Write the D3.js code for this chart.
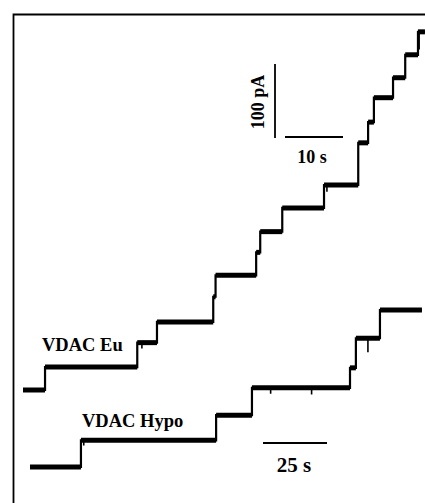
<!DOCTYPE html>
<html>
<head>
  <title>VDAC channel insertion</title>
  <meta charset="UTF-8">
  <style>
    body {
        margin: 0;
        background-color: #fff;
    }
    svg {
        display: block;
    }
    .lbl {
        font-family: "Liberation Serif", "Times New Roman", serif;
        font-weight: bold;
        fill: #000;
    }
  </style>
</head>
<body>
<svg></svg>
<script src="https://d3js.org/d3.v7.min.js"></script>
<script>

// dimensions
let width = 425, height = 503;

let svg = d3.select("svg")
    .attr("width", width)
    .attr("height", height);

// ---- data ----
// VDAC Eu: step times (s) and current level (pA) held from that time on
let euTimes   = [0, 3.8, 19.7, 23.1, 32.8, 33.2, 40.2, 40.9, 44.7, 51.9, 57.8, 59.5, 60.5, 63.8, 65.9, 68.1];
let euLevels  = [0, 31, 64, 92, 126, 155, 186, 214, 246, 277, 334, 362, 395, 422, 453, 484];
let euEnd = 69.3;

// VDAC Hypo
let hypoTimes  = [0, 19.9, 72.7, 86.7, 125.0, 127.3, 136.7];
let hypoLevels = [0, 36, 70, 107, 134, 174, 212];
let hypoEnd = 153.1;

// short downward spikes: [time s, depth pA]
let euSpikes   = [[68.3, 24], [20.5, 8], [52.4, 9]];
let hypoSpikes = [[132.0, 19], [110.0, 9], [94.0, 8], [21.0, 7]];

// scale bars
let barCurrent = 100;   // pA
let barEuTime = 10;     // s
let barHypoTime = 25;   // s

// ---- scales ----
let pxPerPA = 0.74;
let yEu = d3.scaleLinear().domain([0, 100]).range([390, 390 - 100 * pxPerPA]);
let yHypo = d3.scaleLinear().domain([0, 100]).range([467, 467 - 100 * pxPerPA]);
let xEu = d3.scaleLinear().domain([0, 10]).range([23, 81]);       // 10 s = 58 px
let xHypo = d3.scaleLinear().domain([0, 25]).range([30, 94]);     // 25 s = 64 px

// frame
svg.append("path")
    .attr("d", "M13.5,503 L13.5,14.5 L425,14.5")
    .attr("fill", "none")
    .attr("stroke", "#000")
    .attr("stroke-width", 1.8);

// draw one trace: thin step line + thick noisy-looking plateaus
function drawTrace(times, levels, tEnd, spikes, x, y) {
  let pts = times.map((t, i) => [t, levels[i]]);
  pts.push([tEnd, levels[levels.length - 1]]);

  let g = svg.append("g");

  g.append("path")
    .datum(pts)
    .attr("d", d3.line().x(d => x(d[0])).y(d => y(d[1])).curve(d3.curveStepAfter))
    .attr("fill", "none")
    .attr("stroke", "#000")
    .attr("stroke-width", 2.2);

  // plateaus
  g.selectAll("line.lev")
    .data(pts.slice(0, -1))
    .enter()
    .append("line")
    .attr("class", "lev")
    .attr("x1", (d) => x(d[0]))
    .attr("x2", (d, i) => x(pts[i + 1][0]))
    .attr("y1", d => y(d[1]))
    .attr("y2", d => y(d[1]))
    .attr("stroke", "#000")
    .attr("stroke-width", 5);

  // spikes
  g.selectAll("line.spk")
    .data(spikes)
    .enter()
    .append("line")
    .attr("class", "spk")
    .attr("x1", d => x(d[0]))
    .attr("x2", d => x(d[0]))
    .attr("y1", d => {
      let i = d3.bisectRight(times, d[0]) - 1;
      return y(levels[i]);
    })
    .attr("y2", d => {
      let i = d3.bisectRight(times, d[0]) - 1;
      return y(levels[i] - d[1]);
    })
    .attr("stroke", "#000")
    .attr("stroke-width", 1.6);
}

drawTrace(euTimes, euLevels, euEnd, euSpikes, xEu, yEu);
drawTrace(hypoTimes, hypoLevels, hypoEnd, hypoSpikes, xHypo, yHypo);

// ---- scale bars ----
let yBar = d3.scaleLinear().domain([0, 100]).range([138, 138 - 100 * pxPerPA]);
let xBar = d3.scaleLinear().domain([0, 10]).range([285, 285 + 58]);
let xBar2 = d3.scaleLinear().domain([0, 25]).range([263, 263 + 64]);

svg.append("line")
    .attr("x1", 275).attr("x2", 275)
    .attr("y1", yBar(0)).attr("y2", yBar(barCurrent))
    .attr("stroke", "#000").attr("stroke-width", 1.8);

svg.append("line")
    .attr("x1", xBar(0)).attr("x2", xBar(barEuTime))
    .attr("y1", 137).attr("y2", 137)
    .attr("stroke", "#000").attr("stroke-width", 1.8);

svg.append("line")
    .attr("x1", xBar2(0)).attr("x2", xBar2(barHypoTime))
    .attr("y1", 443).attr("y2", 443)
    .attr("stroke", "#000").attr("stroke-width", 1.8);

// ---- labels ----
svg.append("text")
    .attr("class", "lbl")
    .attr("transform", "translate(264,102) rotate(-90)")
    .attr("text-anchor", "middle")
    .style("font-size", "18px")
    .text(barCurrent + " pA");

svg.append("text")
    .attr("class", "lbl")
    .attr("x", 312).attr("y", 163)
    .attr("text-anchor", "middle")
    .style("font-size", "18px")
    .text(barEuTime + " s");

svg.append("text")
    .attr("class", "lbl")
    .attr("x", 294).attr("y", 472)
    .attr("text-anchor", "middle")
    .style("font-size", "21px")
    .text(barHypoTime + " s");

svg.append("text")
    .attr("class", "lbl")
    .attr("x", 42).attr("y", 351)
    .style("font-size", "18.5px")
    .text("VDAC Eu");

svg.append("text")
    .attr("class", "lbl")
    .attr("x", 82).attr("y", 427)
    .style("font-size", "18.5px")
    .text("VDAC Hypo");

</script>
</body>
</html>
